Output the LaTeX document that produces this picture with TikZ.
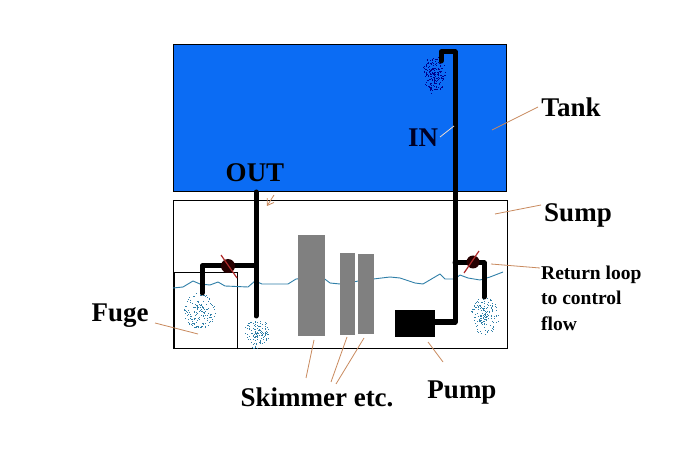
\documentclass[tikz,border=0pt]{standalone}
\usepackage{fontspec}
\setmainfont{Liberation Serif}
\usetikzlibrary{arrows.meta}
\definecolor{tankblue}{HTML}{0B6CF4}
\definecolor{leader}{HTML}{C98A5E}
\definecolor{waterline}{HTML}{2F7FA8}
\definecolor{valvered}{HTML}{B02A2A}
\tikzset{
  vessel/.style={draw=black,line width=1pt},
  pipe/.style={draw=black,line width=5pt,line join=round,line cap=round},
  baffle/.style={fill=black!50,draw=none},
  valvebody/.style={circle,fill=black!85!red,draw=none,minimum size=14pt,inner sep=0pt},
  valvemark/.style={draw=valvered,line width=1.2pt},
  pointer/.style={draw=leader,line width=.8pt},
  bigtag/.style={font=\bfseries\fontsize{27}{27}\selectfont,inner sep=0pt},
  smalltag/.style={font=\bfseries\fontsize{19.5}{25.5}\selectfont,inner sep=0pt,align=left,anchor=west}
}
% Cloud of scattered dots standing for air bubbles, thicker towards the middle
\newcommand{\bubbles}[7]{%
  \pgfmathsetseed{#6}%
  \foreach \n in {1,...,#7}{%
    \pgfmathsetmacro{\ang}{360*rnd}%
    \pgfmathsetmacro{\rad}{rnd^0.7}%
    \fill[#5] ({#1+#3*\rad*cos(\ang)-.5},{#2+#4*\rad*sin(\ang)-.5}) rectangle ++(1,1);%
  }%
}
\begin{document}
\begin{tikzpicture}[x=1pt,y=-1pt]
\useasboundingbox (0,0) rectangle (696,462);
\fill[white] (0,0) rectangle (696,462);

% Vessels
\node[vessel,fill=tankblue,minimum width=333pt,minimum height=147pt,inner sep=0pt,anchor=north west] (tank) at (173,44) {};
\node[vessel,minimum width=334pt,minimum height=148pt,inner sep=0pt,anchor=north west] (sump) at (173,200) {};
\node[vessel,minimum width=63pt,minimum height=76pt,inner sep=0pt,anchor=north west] (fuge) at (174,272) {};
\draw[black,line width=1pt] (fuge.north west) ++(.5,0) -- ++(0,76);

% Water surface
\draw[waterline,line width=.9pt,line join=round]
  (173,288) -- (183,287) -- (193,281) -- (200,284) -- (210,285) -- (218,282) -- (225,286)
  -- (248,287) -- (255,281) -- (262,284) -- (288,284) -- (296,279) -- (322,277) -- (330,283)
  -- (340,284) -- (365,280) -- (390,277) -- (400,278) -- (415,283) -- (423,284) -- (440,274)
  -- (445,279) -- (455,279) -- (460,275) -- (468,278) -- (480,280) -- (490,277) -- (503,272);

% Equipment in the sump
\node[baffle,minimum width=27pt,minimum height=101pt,inner sep=0pt,anchor=north west] (skimmer) at (298,235) {};
\node[baffle,minimum width=15pt,minimum height=82pt,inner sep=0pt,anchor=north west] (reactorA) at (340,253) {};
\node[baffle,minimum width=16pt,minimum height=80pt,inner sep=0pt,anchor=north west] (reactorB) at (358,254) {};
\node[fill=black,minimum width=40pt,minimum height=27pt,inner sep=0pt,anchor=north west] (pump) at (395,310) {};

% Bubbles at the pipe outlets
\bubbles{434}{75}{12}{19}{blue!55!black}{11}{200}
\bubbles{200}{311}{16}{18}{waterline}{12}{160}
\bubbles{257}{333}{12}{16}{waterline}{13}{130}
\bubbles{485}{316}{14}{19}{waterline}{14}{160}

% Plumbing
\coordinate (outTop) at (256,192);
\coordinate (outEnd) at (256,316);
\coordinate (teeL) at (256,266);
\coordinate (fugeCorner) at (202,266);
\coordinate (fugeEnd) at (202,293);
\coordinate (riserTop) at (455,52);
\coordinate (nozzleTop) at (441,52);
\coordinate (nozzleEnd) at (441,61);
\coordinate (pumpOut) at (455,322);
\coordinate (teeR) at (455,263);
\coordinate (loopCorner) at (484,263);
\coordinate (loopEnd) at (484,297);
\draw[pipe] (outTop) -- (outEnd);
\draw[pipe] (teeL) -- (fugeCorner) -- (fugeEnd);
\draw[pipe] (pump.east |- pumpOut) -- (pumpOut) -- (riserTop) -- (nozzleTop) -- (nozzleEnd);
\draw[pipe] (teeR) -- (loopCorner) -- (loopEnd);

% Valves
\node[valvebody] (valveL) at (228,266) {};
\node[valvebody,minimum size=13pt] (valveR) at (473,262) {};
\coordinate (valveLa) at (221,255);
\coordinate (valveLb) at (237,278);
\coordinate (valveRa) at (464,273);
\coordinate (valveRb) at (479,251);
\draw[valvemark] (valveLa) -- (valveLb);
\draw[valvemark] (valveRa) -- (valveRb);

% Labels
\node[bigtag] (tankTag) at (571,107) {Tank};
\node[bigtag] (sumpTag) at (578,215) {Sump};
\node[bigtag,text=black!85!blue] (inTag) at (423,138) {IN};
\node[bigtag] (outTag) at (255,173) {OUT};
\node[bigtag] (fugeTag) at (120,316) {Fuge};
\node[bigtag] (skimTag) at (317,397) {Skimmer etc.};
\node[bigtag] (pumpTag) at (462,393) {Pump};
\node[smalltag] (loopTag) at (541,298) {Return loop\\to control\\flow};

% Leader lines
\coordinate (tankPt) at (492,130);
\coordinate (sumpPt) at (495,214);
\coordinate (loopPt) at (491,264);
\coordinate (inPt) at (440,137);
\coordinate (inPipe) at (454,126);
\coordinate (fugeA) at (155,323);
\coordinate (fugeB) at (198,334);
\coordinate (outA) at (274,195);
\coordinate (outB) at (267,206);
\coordinate (skimA) at (314,340);
\coordinate (skimB) at (347,337);
\coordinate (skimC) at (364,338);
\coordinate (skimA2) at (306,378);
\coordinate (skimB2) at (331,382);
\coordinate (skimC2) at (336,384);
\coordinate (pumpA) at (428,342);
\coordinate (pumpB) at (443,362);
\coordinate (tankEnd) at (538,107);
\coordinate (sumpEnd) at (541,205);
\coordinate (loopEnd2) at (540,268);
\draw[pointer] (tankEnd) -- (tankPt);
\draw[pointer] (sumpEnd) -- (sumpPt);
\draw[pointer] (loopEnd2) -- (loopPt);
\draw[draw=white!70!leader,line width=.8pt] (inPt) -- (inPipe);
\draw[pointer] (fugeA) -- (fugeB);
\draw[pointer,-{Straight Barb[length=6pt,width=8pt]}] (outA) -- (outB);
\draw[pointer] (skimA2) -- (skimA);
\draw[pointer] (skimB2) -- (skimB);
\draw[pointer] (skimC2) -- (skimC);
\draw[pointer] (pumpA) -- (pumpB);
\end{tikzpicture}
\end{document}
